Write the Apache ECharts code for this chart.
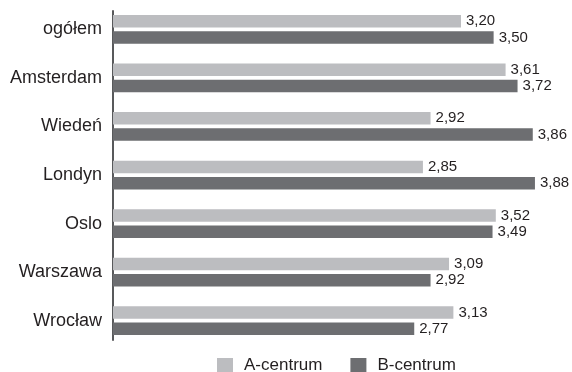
<!DOCTYPE html>
<html>
<head>
<meta charset="utf-8">
<script src="https://cdn.jsdelivr.net/npm/echarts@6/dist/echarts.min.js"></script>
<style>
  html, body { margin: 0; padding: 0; background: #fff; }
  #chart { width: 572px; height: 372px; }
</style>
</head>
<body>
<div id="chart"></div>
<script>
// Categories, top to bottom
const categories = ['ogółem', 'Amsterdam', 'Wiedeń', 'Londyn', 'Oslo', 'Warszawa', 'Wrocław'];
// Series values
const seriesNames = ['A-centrum', 'B-centrum'];
const valuesA = [3.20, 3.61, 2.92, 2.85, 3.52, 3.09, 3.13];
const valuesB = [3.50, 3.72, 3.86, 3.88, 3.49, 2.92, 2.77];

const FONT = 'Liberation Sans, Arial, sans-serif';
const colorA = '#bcbdc0';
const colorB = '#6d6e71';

const fmt = p => p.value.toFixed(2).replace('.', ',');

const labelStyle = {
  show: true,
  position: 'right',
  distance: 5,
  formatter: fmt,
  color: '#231f20',
  fontFamily: FONT,
  fontSize: 15
};

const chart = echarts.init(document.getElementById('chart'), null, { renderer: 'canvas' });
chart.setOption({
  animation: false,
  backgroundColor: '#ffffff',
  textStyle: { fontFamily: FONT },
  grid: [
    // plotting grid for the bars
    { left: 113, right: 24, top: 5, bottom: 27 },
    // grid carrying the vertical axis line
    { left: 113, right: 24, top: 11, bottom: 32, z: 5 }
  ],
  legend: {
    data: seriesNames,
    left: 212,
    top: 352,
    itemWidth: 16,
    itemHeight: 15,
    itemGap: 28,
    icon: 'rect',
    textStyle: { fontFamily: FONT, fontSize: 17, color: '#231f20', padding: [0, 0, 0, 6] }
  },
  xAxis: [
    { type: 'value', gridIndex: 0, min: 0, max: 4, show: false },
    { type: 'value', gridIndex: 1, min: 0, max: 4, show: false }
  ],
  yAxis: [
    {
      type: 'category',
      gridIndex: 0,
      data: categories,
      inverse: true,
      axisLine: { show: false },
      axisTick: { show: false },
      splitLine: { show: false },
      axisLabel: { fontFamily: FONT, fontSize: 18, color: '#231f20', margin: 11 }
    },
    {
      type: 'category',
      gridIndex: 1,
      data: categories,
      inverse: true,
      axisLine: { show: true, lineStyle: { color: '#58595b', width: 2 } },
      axisTick: { show: false },
      axisLabel: { show: false },
      splitLine: { show: false }
    }
  ],
  series: [
    {
      name: seriesNames[0],
      type: 'bar',
      data: valuesA,
      barWidth: 12.5,
      barGap: '30%',
      itemStyle: { color: colorA },
      label: labelStyle
    },
    {
      name: seriesNames[1],
      type: 'bar',
      data: valuesB,
      barWidth: 12.5,
      barGap: '30%',
      itemStyle: { color: colorB },
      label: labelStyle
    }
  ]
});
</script>
</body>
</html>
